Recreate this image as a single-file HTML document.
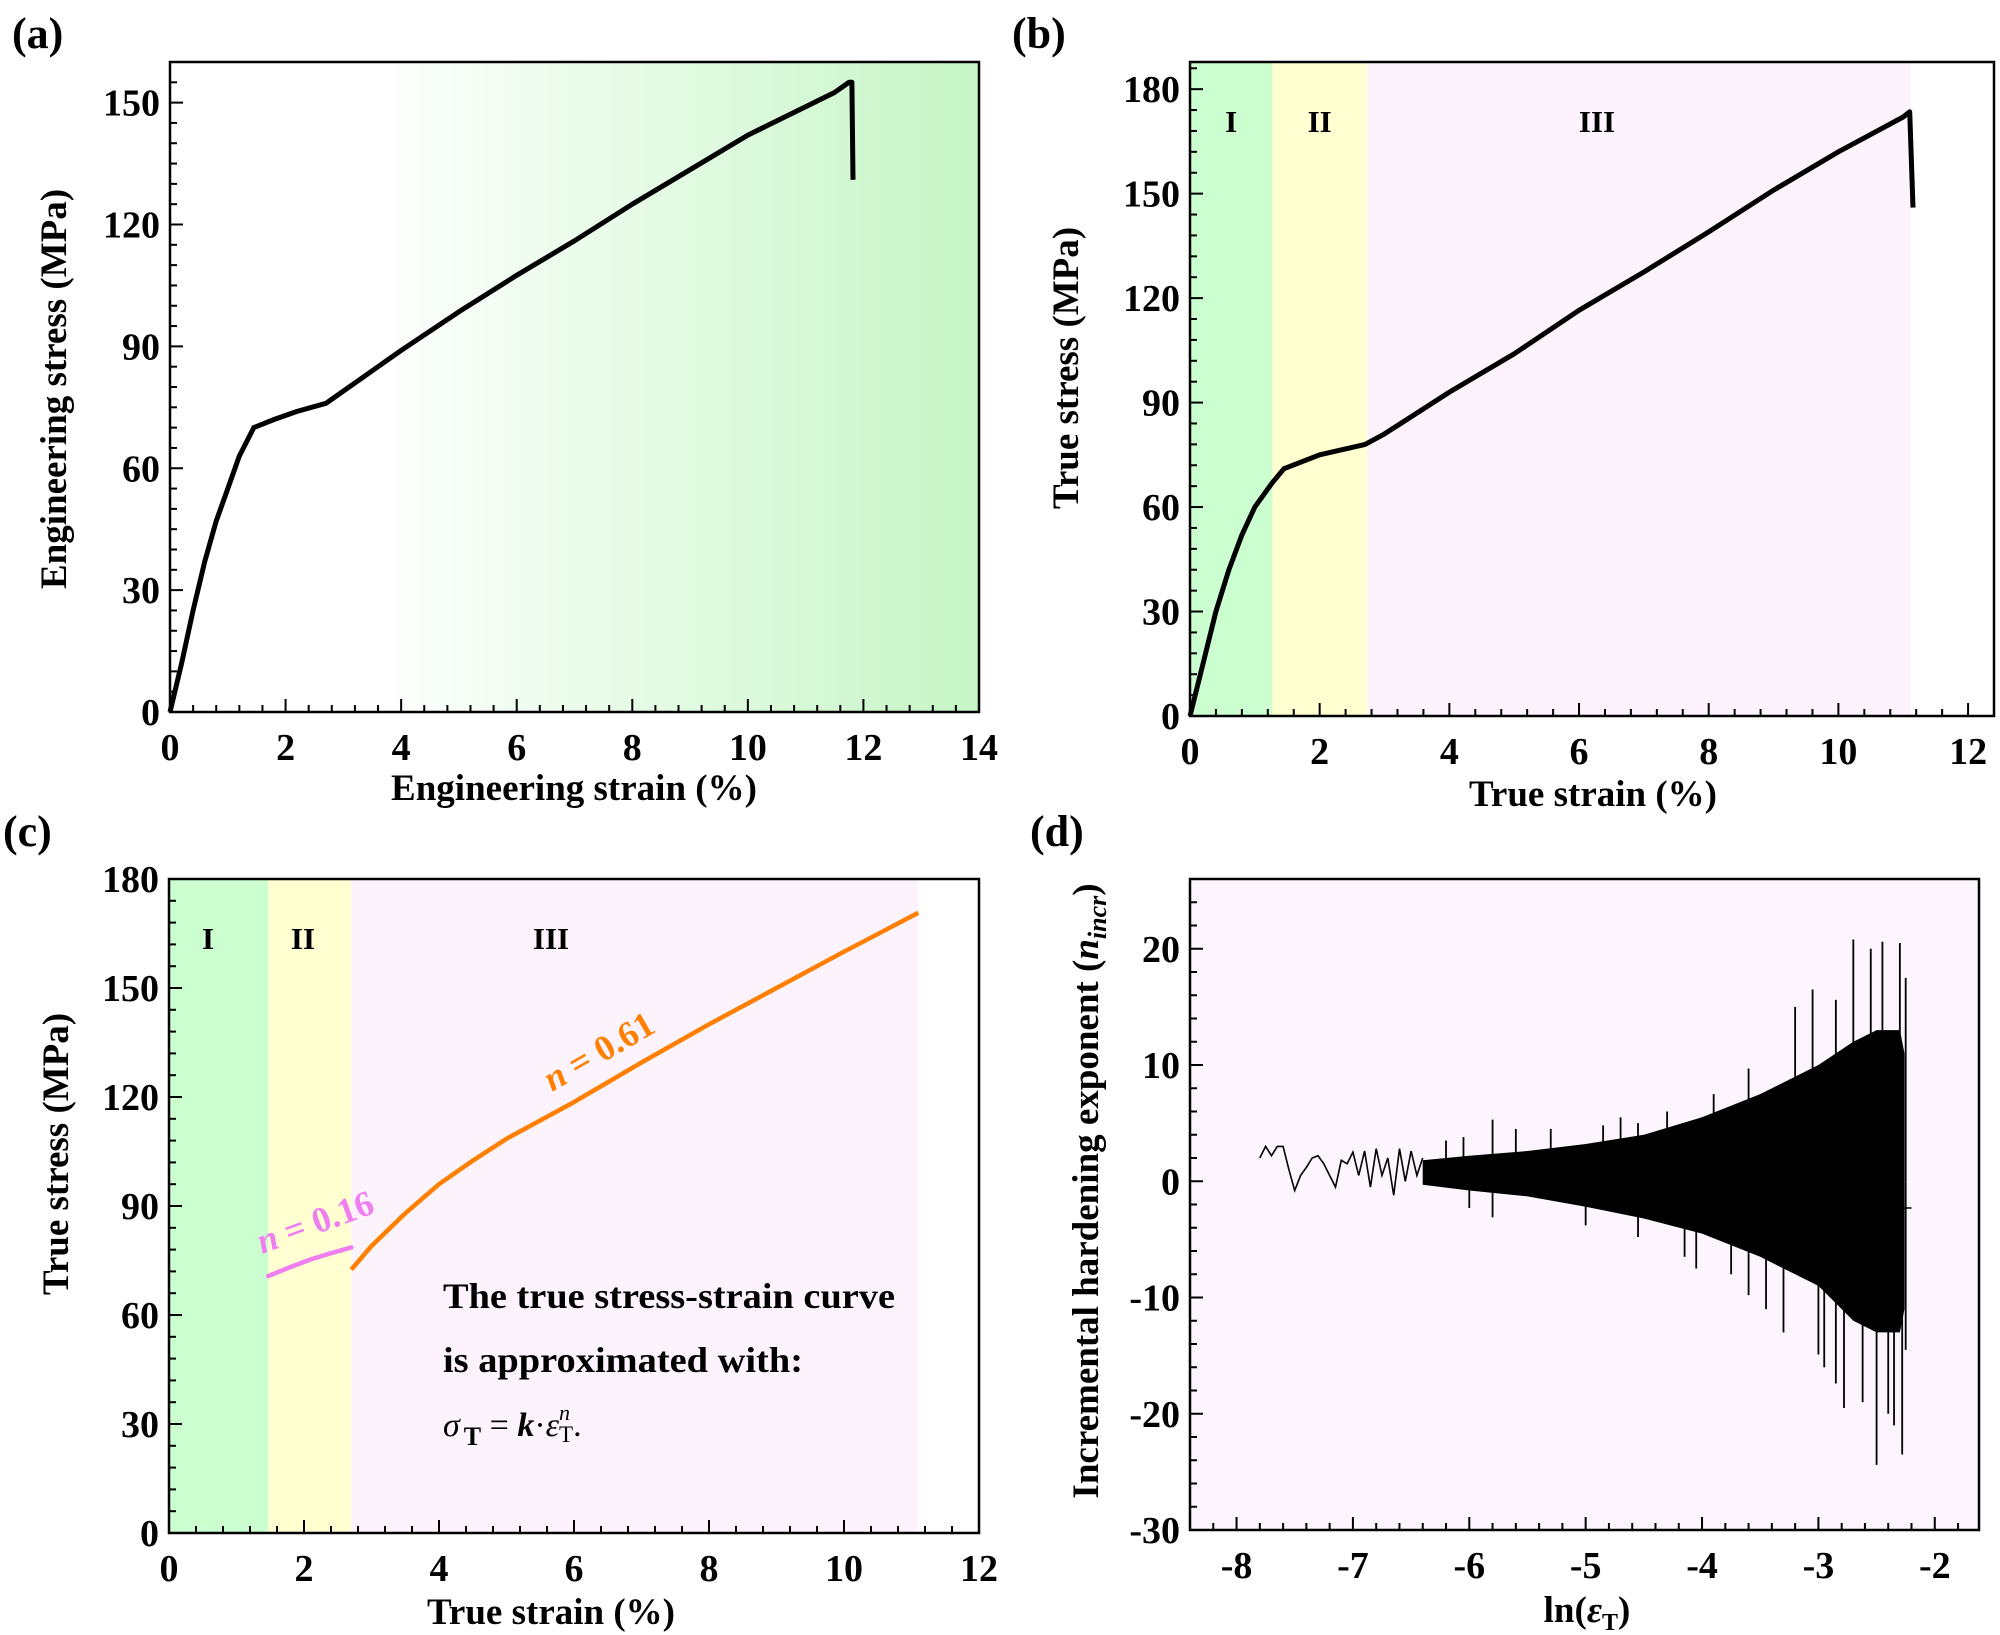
<!DOCTYPE html>
<html><head><meta charset="utf-8"><style>
html,body{margin:0;padding:0;background:#fff}
svg{display:block}
text{font-family:"Liberation Serif",serif;font-weight:bold;fill:#000}
</style></head><body>
<svg id="fig" width="2000" height="1635" viewBox="0 0 2000 1635" xmlns="http://www.w3.org/2000/svg">
<defs>
<linearGradient id="gA" x1="0" x2="1" y1="0" y2="0">
<stop offset="0" stop-color="#ffffff"/><stop offset="0.25" stop-color="#ffffff"/><stop offset="1" stop-color="#c6f5c6"/>
</linearGradient>
</defs>
</svg>
<script>
// ---------- data ----------
const engStrain=[0,0.2,0.4,0.6,0.8,1.0,1.2,1.45,1.8,2.2,2.7,3.0,4.0,5.0,6.0,7.0,8.0,9.0,10.0,11.0,11.5,11.75,11.8,11.82];
const engStress=[0,12,25,37,47,55,63,70,72,74,76,79,89,98.5,107.5,116,125,133.5,142,149,152.5,155,155,131];
const trueStrainB=[0,0.2,0.4,0.6,0.8,1.0,1.27,1.45,2.0,2.7,3.0,4.0,5.0,6.0,7.0,8.0,9.0,10.0,11.0,11.1,11.15];
const trueStressB=[0,15,30,42,52,60,67,71,75,78,81,93,104,116.5,127.5,139,151,162,172,173.5,146];
const regionB=[0,1.27,2.73,11.12];
const regionC=[0,1.47,2.7,11.1];
const fitIIstrain=[1.47,1.8,2.1,2.4,2.7];
const fitIIstress=[70.7,73.2,75.3,77,78.6];
const fitIIIstrain=[2.7,3,3.5,4,4.5,5,6,7,8,9,10,11.1];
const fitIIIstress=[72.5,79,88,96,102.5,108.5,118.6,129.5,140,150,160,170.7];
const nEarlyX=[-7.8,-7.75,-7.7,-7.65,-7.6,-7.55,-7.5,-7.45,-7.4,-7.35,-7.3,-7.25,-7.2,-7.15,-7.1,-7.05,-7.0,-6.95,-6.9,-6.85,-6.8,-6.75,-6.7,-6.65,-6.6,-6.55,-6.5,-6.45,-6.4];
const nEarlyY=[2,3,2.2,3,3,1,-0.8,0.5,1.2,2,2.2,1.5,0.5,-0.5,1.8,1.5,2.5,0.5,2.6,-0.5,2.8,0.5,2,-1.2,2.8,0,2.6,0.5,2];
const envX=[-6.4,-6.0,-5.5,-5.0,-4.5,-4.0,-3.5,-3.0,-2.7,-2.5,-2.3,-2.26];
const envUpper=[1.8,2.2,2.6,3.2,4,5.5,7.5,10,12,13,13,11];
const envLower=[-0.3,-0.8,-1.3,-2.2,-3.2,-4.5,-6.5,-9,-12,-13,-13,-11];
const spikeX=[-6.2,-6.05,-6.0,-5.8,-5.8,-5.6,-5.3,-5.0,-4.85,-4.7,-4.55,-4.55,-4.3,-4.15,-4.05,-3.9,-3.75,-3.6,-3.6,-3.45,-3.3,-3.2,-3.05,-3.0,-2.95,-2.85,-2.85,-2.78,-2.7,-2.62,-2.55,-2.5,-2.45,-2.4,-2.35,-2.3,-2.28,-2.25,-2.25];
const spikeY=[3.5,3.8,-2.3,5.3,-3.1,4.5,4.5,-3.8,4.8,5.5,5,-4.8,6,-6.5,-7.5,7.5,-8,9.7,-9.8,-11,-13,15,16.5,-14.9,-16,15.6,-17.4,-19.5,20.8,-19,20,-24.4,20.6,-20,-21,20.5,-23.5,17.5,-14.5];

// ---------- helpers ----------
const svg=document.getElementById('fig');
const NS='http://www.w3.org/2000/svg';
function mk(tag,attrs,parent){const e=document.createElementNS(NS,tag);for(const k in attrs)e.setAttribute(k,attrs[k]);(parent||svg).appendChild(e);return e;}
function axes(p){
  p.sx=v=>p.L+(v-p.x0)/(p.x1-p.x0)*(p.R-p.L);
  p.sy=v=>p.B-(v-p.y0)/(p.y1-p.y0)*(p.B-p.T);
  return p;
}
const TF=38;
function drawFrame(p,g){
  mk('rect',{x:p.L,y:p.T,width:p.R-p.L,height:p.B-p.T,fill:'none',stroke:'#000','stroke-width':2.5},g);
  for(let v=p.xmin0;v<=p.x1+1e-9;v+=p.xminor){const x=p.sx(v);if(x<p.L-0.5||x>p.R+0.5)continue;
    const maj=Math.abs((v-p.xmaj0)/p.xmajor-Math.round((v-p.xmaj0)/p.xmajor))<1e-6;
    mk('line',{x1:x,x2:x,y1:p.B,y2:p.B-(maj?13:7),stroke:'#000','stroke-width':2},g);}
  for(let v=p.ymin0;v<=p.y1+1e-9;v+=p.yminor){const y=p.sy(v);if(y<p.T-0.5||y>p.B+0.5)continue;
    const maj=Math.abs((v-p.ymaj0)/p.ymajor-Math.round((v-p.ymaj0)/p.ymajor))<1e-6;
    mk('line',{y1:y,y2:y,x1:p.L,x2:p.L+(maj?13:7),stroke:'#000','stroke-width':2},g);}
  p.xt.forEach(v=>{const t=mk('text',{x:p.sx(v),y:p.B+48,'text-anchor':'middle','font-size':TF},g);t.textContent=String(v);
    
    });
  p.yt.forEach(v=>{const t=mk('text',{x:p.L-10,y:p.sy(v)+13,'text-anchor':'end','font-size':TF},g);t.textContent=String(v);
    
    });
}
function poly(p,xs,ys,attrs,g){const pts=xs.map((x,i)=>p.sx(x).toFixed(1)+','+p.sy(ys[i]).toFixed(1)).join(' ');
  return mk('polyline',Object.assign({points:pts,fill:'none'},attrs),g);}
function label(txt,x,y,size,g,extra){const t=mk('text',Object.assign({x:x,y:y,'font-size':size},extra||{}),g);t.textContent=txt;return t;}
const AF=37;

// ---------- panel a ----------
const gA=mk('g',{});
const pA=axes({L:170,R:979,T:62,B:712,x0:0,x1:14,y0:0,y1:160,xminor:0.4,xmin0:0,xmajor:2,xmaj0:0,yminor:5,ymin0:0,ymajor:30,ymaj0:0,xt:[0,2,4,6,8,10,12,14],yt:[0,30,60,90,120,150]});
const bgA=mk('rect',{x:pA.L,y:pA.T,width:pA.R-pA.L,height:pA.B-pA.T,fill:'url(#gA)'},gA);

const cA=poly(pA,engStrain,engStress,{stroke:'#000','stroke-width':5,'stroke-linejoin':'round'},gA);

drawFrame(pA,gA);
let t;
t=label('(a)',12,48,44,gA);
t=label('Engineering strain (%)',574,800,AF,gA,{'text-anchor':'middle'});
t=label('Engineering stress (MPa)',0,0,AF,gA,{'text-anchor':'middle',transform:'translate(66,389) rotate(-90)'});

// ---------- panel b ----------
const gB=mk('g',{});
const pB=axes({L:1190,R:1994,T:62,B:716,x0:0,x1:12.4,y0:0,y1:187.8,xminor:0.4,xmin0:0,xmajor:2,xmaj0:0,yminor:6,ymin0:0,ymajor:30,ymaj0:0,xt:[0,2,4,6,8,10,12],yt:[0,30,60,90,120,150,180]});
const colsB=['#ccffd0','#ffffd2','#fdf3fd'];
for(let i=0;i<3;i++){const r=mk('rect',{x:pB.sx(regionB[i]),y:pB.T,width:pB.sx(regionB[i+1])-pB.sx(regionB[i]),height:pB.B-pB.T,fill:colsB[i]},gB);
  
  }
const cB=poly(pB,trueStrainB,trueStressB,{stroke:'#000','stroke-width':5,'stroke-linejoin':'round'},gB);

drawFrame(pB,gB);
['I','II','III'].forEach((s,i)=>{const tt=label(s,pB.sx((regionB[i]+regionB[i+1])/2)+(i==2?-42:0),132,31,gB,{'text-anchor':'middle'});
  
  });
t=label('(b)',1012,48,44,gB);
t=label('True strain (%)',1593,806,AF,gB,{'text-anchor':'middle'});
t=label('True stress (MPa)',0,0,AF,gB,{'text-anchor':'middle',transform:'translate(1078,368) rotate(-90)'});

// ---------- panel c ----------
const gC=mk('g',{});
const pC=axes({L:169,R:979,T:879,B:1533,x0:0,x1:12,y0:0,y1:180,xminor:0.4,xmin0:0,xmajor:2,xmaj0:0,yminor:6,ymin0:0,ymajor:30,ymaj0:0,xt:[0,2,4,6,8,10,12],yt:[0,30,60,90,120,150,180]});
for(let i=0;i<3;i++){const r=mk('rect',{x:pC.sx(regionC[i]),y:pC.T,width:pC.sx(regionC[i+1])-pC.sx(regionC[i]),height:pC.B-pC.T,fill:colsB[i]},gC);
  
  }
const f2=poly(pC,fitIIstrain,fitIIstress,{stroke:'#f07ef0','stroke-width':4.5,'stroke-linecap':'round'},gC);

const f3=poly(pC,fitIIIstrain,fitIIIstress,{stroke:'#ff8000','stroke-width':4.5,'stroke-linejoin':'round'},gC);

drawFrame(pC,gC);
['I','II','III'].forEach((s,i)=>{const tt=label(s,[208,303,551][i],949,31,gC,{'text-anchor':'middle'});
  
  });
t=mk('text',{x:0,y:0,'font-size':36,style:'fill:#f07ef0',transform:'translate(262,1254) rotate(-20)'},gC);
t.innerHTML='<tspan font-style="italic">n</tspan> = 0.16';
t=mk('text',{x:0,y:0,'font-size':36,style:'fill:#ff8000',transform:'translate(552,1092) rotate(-30)'},gC);
t.innerHTML='<tspan font-style="italic">n</tspan> = 0.61';
t=label('The true stress-strain curve',443,1308,36,gC,{textLength:452,lengthAdjust:'spacingAndGlyphs'});
t=label('is approximated with:',443,1372,36,gC,{textLength:360,lengthAdjust:'spacingAndGlyphs'});
t=mk('text',{x:443,y:1436,'font-size':34,style:'font-weight:normal'},gC);
t.innerHTML='<tspan font-style="italic">σ</tspan><tspan dx="4" dy="9" font-size="26" font-weight="bold">T</tspan><tspan dy="-9"> = </tspan><tspan font-style="italic" font-weight="bold">k</tspan><tspan>·</tspan><tspan font-style="italic">ε</tspan><tspan dy="-16" font-size="22" font-style="italic">n</tspan><tspan dx="-11" dy="22" font-size="23">T</tspan><tspan dy="-6">.</tspan>';

t=label('(c)',3,846,44,gC);
t=label('True strain (%)',551,1624,AF,gC,{'text-anchor':'middle'});
t=label('True stress (MPa)',0,0,AF,gC,{'text-anchor':'middle',transform:'translate(68,1154) rotate(-90)'});

// ---------- panel d ----------
const gD=mk('g',{});
const pD=axes({L:1190,R:1979,T:879,B:1530,x0:-8.4,x1:-1.62,y0:-30,y1:26,xminor:0.2,xmin0:-8.4,xmajor:1,xmaj0:-8,yminor:2,ymin0:-30,ymajor:10,ymaj0:-30,xt:[-8,-7,-6,-5,-4,-3,-2],yt:[-30,-20,-10,0,10,20]});
const bgD=mk('rect',{x:pD.L,y:pD.T,width:pD.R-pD.L,height:pD.B-pD.T,fill:'#fdf5fd'},gD);

const early=poly(pD,nEarlyX,nEarlyY,{stroke:'#000','stroke-width':1.6},gD);

let bandPts=envX.map((x,i)=>pD.sx(x).toFixed(1)+','+pD.sy(envUpper[i]).toFixed(1));
for(let i=envX.length-1;i>=0;i--)bandPts.push(pD.sx(envX[i]).toFixed(1)+','+pD.sy(envLower[i]).toFixed(1));
const band=mk('polygon',{points:bandPts.join(' '),fill:'#000'},gD);

spikeX.forEach((x,i)=>{const l=mk('line',{x1:pD.sx(x),x2:pD.sx(x),y1:pD.sy(0),y2:pD.sy(spikeY[i]),stroke:'#000','stroke-width':1.8},gD);
  
  });
mk('line',{x1:pD.sx(-2.26),x2:pD.sx(-2.2),y1:pD.sy(-2.3),y2:pD.sy(-2.3),stroke:'#000','stroke-width':1.5},gD);
drawFrame(pD,gD);
t=label('(d)',1030,846,44,gD);
t=mk('text',{x:1587,y:1622,'font-size':AF,'text-anchor':'middle'},gD);
t.innerHTML='ln(<tspan font-style="italic">ε</tspan><tspan font-size="24" dy="8">T</tspan><tspan dy="-8">)</tspan>';

t=mk('text',{x:0,y:0,'font-size':AF,'text-anchor':'middle',transform:'translate(1098,1191) rotate(-90)'},gD);
t.innerHTML='Incremental hardening exponent (<tspan font-style="italic">n</tspan><tspan font-style="italic" font-size="26" dy="8">incr</tspan><tspan dy="-8">)</tspan>';

</script>
</body></html>
